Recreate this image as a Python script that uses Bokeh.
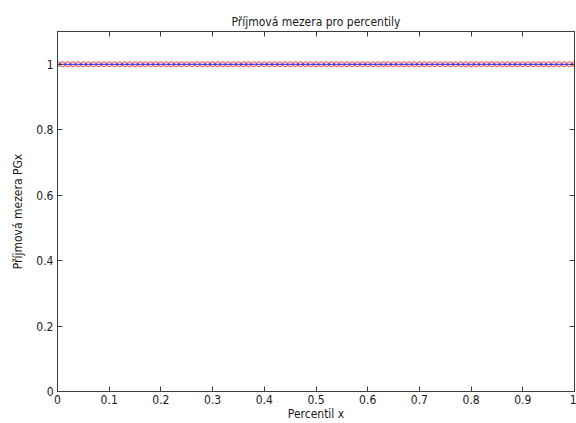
from bokeh.plotting import figure
from bokeh.models import LinearAxis, Range1d, FixedTicker, ColumnDataSource
from bokeh.embed import file_html
from bokeh.resources import INLINE

percentil = [0.00, 0.01, 0.02, 0.03, 0.04, 0.05, 0.06, 0.07, 0.08, 0.09,
             0.10, 0.11, 0.12, 0.13, 0.14, 0.15, 0.16, 0.17, 0.18, 0.19,
             0.20, 0.21, 0.22, 0.23, 0.24, 0.25, 0.26, 0.27, 0.28, 0.29,
             0.30, 0.31, 0.32, 0.33, 0.34, 0.35, 0.36, 0.37, 0.38, 0.39,
             0.40, 0.41, 0.42, 0.43, 0.44, 0.45, 0.46, 0.47, 0.48, 0.49,
             0.50, 0.51, 0.52, 0.53, 0.54, 0.55, 0.56, 0.57, 0.58, 0.59,
             0.60, 0.61, 0.62, 0.63, 0.64, 0.65, 0.66, 0.67, 0.68, 0.69,
             0.70, 0.71, 0.72, 0.73, 0.74, 0.75, 0.76, 0.77, 0.78, 0.79,
             0.80, 0.81, 0.82, 0.83, 0.84, 0.85, 0.86, 0.87, 0.88, 0.89,
             0.90, 0.91, 0.92, 0.93, 0.94, 0.95, 0.96, 0.97, 0.98, 0.99,
             1.00]
pgx = [1, 1, 1, 1, 1, 1, 1, 1, 1, 1,
       1, 1, 1, 1, 1, 1, 1, 1, 1, 1,
       1, 1, 1, 1, 1, 1, 1, 1, 1, 1,
       1, 1, 1, 1, 1, 1, 1, 1, 1, 1,
       1, 1, 1, 1, 1, 1, 1, 1, 1, 1,
       1, 1, 1, 1, 1, 1, 1, 1, 1, 1,
       1, 1, 1, 1, 1, 1, 1, 1, 1, 1,
       1, 1, 1, 1, 1, 1, 1, 1, 1, 1,
       1, 1, 1, 1, 1, 1, 1, 1, 1, 1,
       1, 1, 1, 1, 1, 1, 1, 1, 1, 1,
       1]
x_ticks = [0, 0.1, 0.2, 0.3, 0.4, 0.5, 0.6, 0.7, 0.8, 0.9, 1]
y_ticks = [0, 0.2, 0.4, 0.6, 0.8, 1]
x_tick_labels = {0: "0", 0.1: "0.1", 0.2: "0.2", 0.3: "0.3", 0.4: "0.4", 0.5: "0.5",
                 0.6: "0.6", 0.7: "0.7", 0.8: "0.8", 0.9: "0.9", 1: "1"}
y_tick_labels = {0: "0", 0.2: "0.2", 0.4: "0.4", 0.6: "0.6", 0.8: "0.8", 1: "1"}
title_text = "Příjmová mezera pro percentily"
x_label_text = "Percentil x"
y_label_text = "Příjmová mezera PGx"

FONT = "'DejaVu Sans Condensed', 'Liberation Sans', sans-serif"
AX = "#3c3c3c"
TXT = "#1a1a1a"

src = ColumnDataSource(data=dict(x=percentil, y=pgx))

p = figure(width=576, height=423, output_backend="svg", toolbar_location=None,
           x_range=Range1d(0, 1), y_range=Range1d(0, 1.1),
           x_axis_location=None, y_axis_location=None,
           min_border_left=57, min_border_right=2, min_border_top=31, min_border_bottom=31,
           title=title_text)
p.title.align = "center"
p.title.text_font = FONT
p.title.text_font_size = "12px"
p.title.text_font_style = "normal"
p.title.text_color = TXT
p.title.offset = 0
p.title.standoff = 5

p.grid.visible = False
p.outline_line_color = AX
p.outline_line_width = 1
p.background_fill_color = "white"
p.border_fill_color = "white"


def style(ax, show_labels):
    ax.axis_line_color = AX
    ax.major_tick_line_color = AX
    ax.minor_tick_line_color = None
    ax.major_tick_in = 5
    ax.major_tick_out = 0
    ax.major_label_text_font = FONT
    ax.major_label_text_font_size = "12px"
    ax.major_label_text_color = TXT if show_labels else None
    ax.axis_label_text_font = FONT
    ax.axis_label_text_font_size = "12px"
    ax.axis_label_text_font_style = "normal"
    ax.axis_label_text_color = TXT


bottom = LinearAxis(ticker=FixedTicker(ticks=x_ticks), major_label_overrides=x_tick_labels,
                    axis_label=x_label_text)
style(bottom, True)
bottom.major_label_standoff = 3
bottom.axis_label_standoff = 0
p.add_layout(bottom, "below")

left = LinearAxis(ticker=FixedTicker(ticks=y_ticks), major_label_overrides=y_tick_labels,
                  axis_label=y_label_text)
style(left, True)
left.major_label_standoff = 4
left.axis_label_standoff = 8
p.add_layout(left, "left")

top = LinearAxis(ticker=FixedTicker(ticks=x_ticks))
style(top, False)
top.major_label_text_font_size = "0px"
p.add_layout(top, "above")

right = LinearAxis(ticker=FixedTicker(ticks=y_ticks))
style(right, False)
right.major_label_text_font_size = "0px"
p.add_layout(right, "right")

p.scatter("x", "y", source=src, marker="circle", size=5, fill_color=None,
          line_color="#ff4040", line_width=1)
p.line("x", "y", source=src, line_color="#1010ff", line_width=1.2)

open("out.html", "w").write(file_html(p, INLINE))
